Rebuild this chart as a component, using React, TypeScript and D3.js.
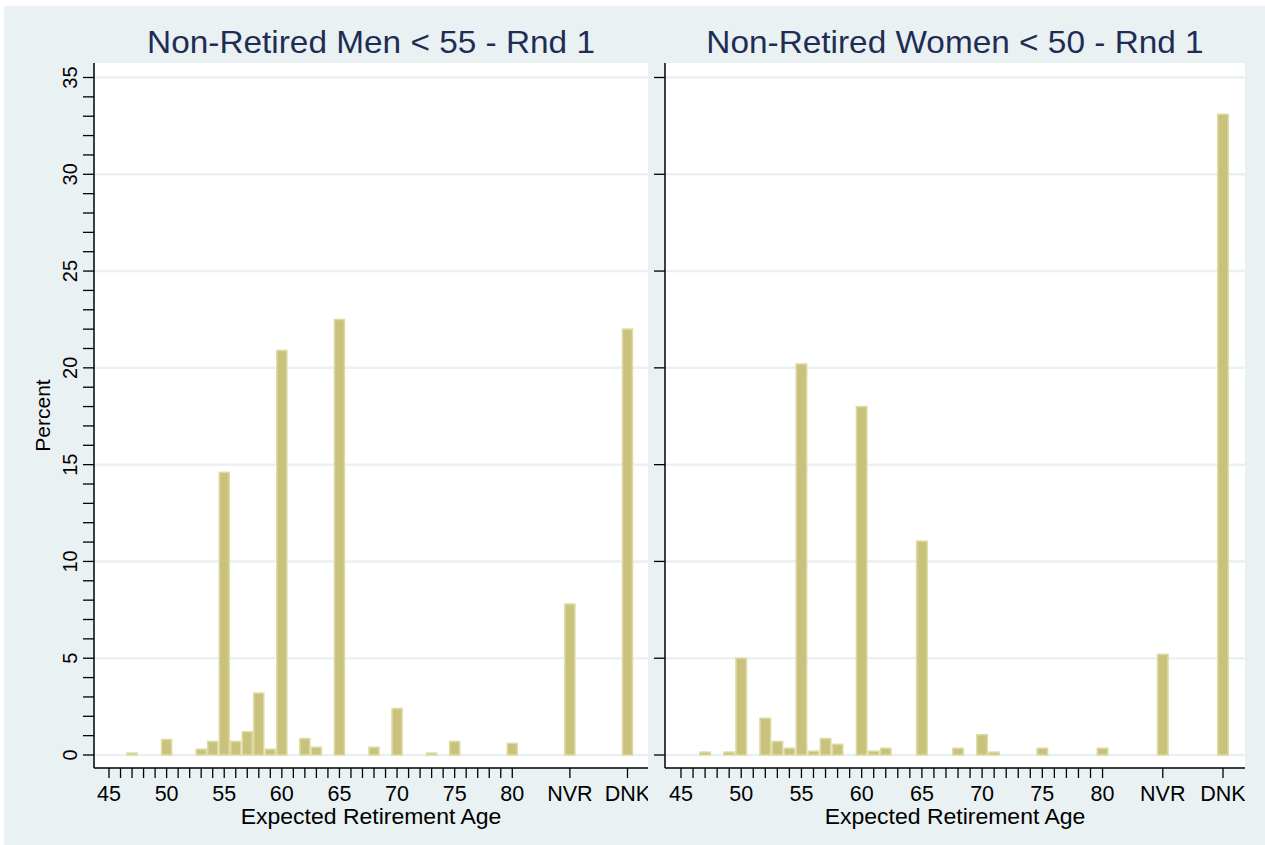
import * as d3 from 'd3';
import {useMemo} from 'react';

const W = 1265;
const H = 845;

// ages 45..80 are plotted on their own value, NVR and DNK sit at 85 and 90
const menAges = [47, 50, 53, 54, 55, 56, 57, 58, 59, 60, 62, 63, 65, 68, 70, 73, 75, 80, 85, 90];
const menPct = [0.1, 0.8, 0.3, 0.7, 14.6, 0.7, 1.2, 3.2, 0.3, 20.9, 0.85, 0.4, 22.5, 0.4, 2.4, 0.1, 0.7, 0.6, 7.8, 22.0];

const womenAges = [47, 49, 50, 52, 53, 54, 55, 56, 57, 58, 60, 61, 62, 65, 68, 70, 71, 75, 80, 85, 90];
const womenPct = [0.15, 0.15, 5.0, 1.9, 0.7, 0.35, 20.2, 0.2, 0.85, 0.55, 18.0, 0.2, 0.35, 11.05, 0.35, 1.05, 0.15, 0.35, 0.35, 5.2, 33.1];

const tickValues = [45, 50, 55, 60, 65, 70, 75, 80, 85, 90];
const tickLabels = ['45', '50', '55', '60', '65', '70', '75', '80', 'NVR', 'DNK'];
const minorTicks = d3.range(45, 81);
const yTicks = [0, 5, 10, 15, 20, 25, 30, 35];
const yMinor = d3.range(0, 36);

const BG = '#e9f1f3';
const GRID = '#e9f1f3';
const BAR_FILL = '#c9c27d';
const BAR_EDGE = '#dedaa3';
const TITLE = '#1f2d55';
const FONT = '"Liberation Sans", Arial, sans-serif';

const PLOT_TOP = 63;
const PLOT_BOTTOM = 768;

type PanelProps = {
  id: string;
  title: string;
  ages: number[];
  pct: number[];
  left: number;
  right: number;
  x0: number;
  x1: number;
  labelled: boolean;
};

function Panel({id, title, ages, pct, left, right, x0, x1, labelled}: PanelProps) {
  const x = useMemo(() => d3.scaleLinear().domain([45, 90]).range([x0, x1]), [x0, x1]);
  const y = useMemo(() => d3.scaleLinear().domain([0, 35]).range([755, 77.5]), []);
  const cx = (left + right) / 2;
  const bars = d3.zip(ages, pct) as [number, number][];

  return (
    <g>
      <defs>
        <clipPath id={`clip-${id}`}>
          <rect x={0} y={0} width={right} height={H} />
        </clipPath>
      </defs>
      <rect x={left} y={PLOT_TOP} width={right - left} height={PLOT_BOTTOM - PLOT_TOP} fill="#fff" />
      {yTicks.map((t) => (
        <line key={t} x1={left} x2={right} y1={y(t)} y2={y(t)} stroke={GRID} strokeWidth={2.5} />
      ))}
      {bars.map(([a, p]) => (
        <rect
          key={a}
          x={x(a - 0.5) + 0.75}
          y={y(p)}
          width={x(a + 0.5) - x(a - 0.5) - 1.5}
          height={y(0) - y(p)}
          fill={BAR_FILL}
          stroke={BAR_EDGE}
          strokeWidth={1.5}
        />
      ))}
      <text transform={`translate(${cx},53) scale(1.06,1)`} textAnchor="middle" fontFamily={FONT} fontSize={31.5} fill={TITLE}>
        {title}
      </text>
      {/* y axis */}
      <line x1={left} x2={left} y1={PLOT_TOP} y2={PLOT_BOTTOM} stroke="#000" strokeWidth={1.5} />
      {(labelled ? yMinor : yTicks).map((t) => (
        <line key={t} x1={left - 11} x2={left} y1={y(t)} y2={y(t)} stroke="#000" strokeWidth={1.3} />
      ))}
      {labelled &&
        yTicks.map((t) => (
          <text
            key={t}
            transform={`translate(77,${y(t)}) rotate(-90)`}
            textAnchor="middle"
            fontFamily={FONT}
            fontSize={20}
            fill="#000"
          >
            {t}
          </text>
        ))}
      {labelled && (
        <text transform={`translate(50,${(PLOT_TOP + PLOT_BOTTOM) / 2}) rotate(-90)`} textAnchor="middle" fontFamily={FONT} fontSize={21} fill="#000">
          Percent
        </text>
      )}
      {/* x axis */}
      <line x1={left} x2={right} y1={PLOT_BOTTOM} y2={PLOT_BOTTOM} stroke="#000" strokeWidth={1.5} />
      {[...minorTicks, 85, 90].map((t) => (
        <line key={t} x1={x(t)} x2={x(t)} y1={PLOT_BOTTOM} y2={PLOT_BOTTOM + 10} stroke="#000" strokeWidth={1.3} />
      ))}
      <g clipPath={`url(#clip-${id})`}>
        {tickValues.map((t, i) => (
          <text key={t} x={x(t)} y={801} textAnchor="middle" fontFamily={FONT} fontSize={21.5} fill="#000">
            {tickLabels[i]}
          </text>
        ))}
      </g>
      <text transform={`translate(${cx},824) scale(1.07,1)`} textAnchor="middle" fontFamily={FONT} fontSize={21.5} fill="#000">
        Expected Retirement Age
      </text>
    </g>
  );
}

export default function App() {
  return (
    <svg width={W} height={H} style={{position: 'fixed', left: 0, top: 0}}>
      <rect x={0} y={0} width={W} height={H} fill="#fff" />
      <rect x={4} y={6} width={W - 4} height={H - 6} fill={BG} />
      <Panel
        id="men"
        title="Non-Retired Men < 55 - Rnd 1"
        ages={menAges}
        pct={menPct}
        left={94}
        right={648}
        x0={109}
        x1={627.5}
        labelled
      />
      <Panel
        id="women"
        title="Non-Retired Women < 50 - Rnd 1"
        ages={womenAges}
        pct={womenPct}
        left={665}
        right={1245}
        x0={681}
        x1={1223}
        labelled={false}
      />
    </svg>
  );
}
